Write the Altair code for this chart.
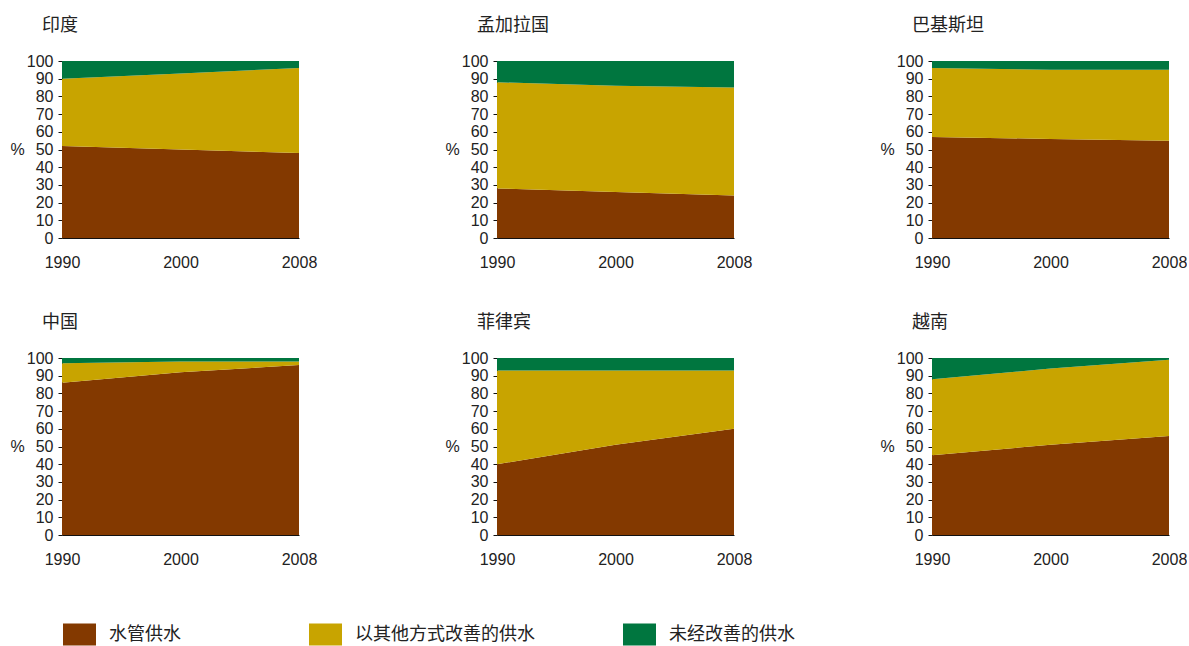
import altair as alt
import pandas as pd

# Water supply source, share of population (%), 1990 / 2000 / 2008
countries = ["印度", "孟加拉国", "巴基斯坦", "中国", "菲律宾", "越南"]
years = [1990, 2000, 2008]
supply_types = ["水管供水", "以其他方式改善的供水", "未经改善的供水"]
supply_colors = ["#833900", "#C8A400", "#00763F"]

piped = [[52, 50, 48], [28, 26, 24], [57, 56, 55], [86, 92, 96], [40, 51, 60], [45, 51, 56]]
other_improved = [[38, 43, 48], [60, 60, 61], [39, 39, 40], [11, 6, 2], [53, 42, 33], [43, 43, 43]]
unimproved = [[10, 7, 4], [12, 14, 15], [4, 5, 5], [3, 2, 2], [7, 7, 7], [12, 6, 1]]

series = [piped, other_improved, unimproved]

LABEL_FONT = "Liberation Sans"
CJK_FONT = "Noto Sans CJK SC"
TEXT_COLOR = "#222222"

# legend placement for the bottom row (one entry per panel)
legend_slots = {3: (0, 6.5), 4: (1, -182.5), 5: (2, -303.5)}


def country_frame(ci):
    rows = []
    for ti, t in enumerate(supply_types):
        for yi, yr in enumerate(years):
            rows.append({"year": yr, "type": t, "rank": ti, "share": series[ti][ci][yi]})
    return pd.DataFrame(rows)


def panel(ci):
    if ci in legend_slots:
        ti, lx = legend_slots[ci]
        legend = alt.Legend(
            values=[supply_types[ti]],
            orient="none",
            legendX=lx,
            legendY=265.5,
            title=None,
            symbolType="M-1.5,-1L1.5,-1L1.5,1L-1.5,1Z",
            symbolSize=484,
            symbolStrokeWidth=0,
            symbolOpacity=1,
            labelFont=CJK_FONT,
            labelFontSize=18,
            labelColor=TEXT_COLOR,
            labelOffset=18.5,
            labelLimit=400,
            padding=0,
        )
    else:
        legend = None

    return (
        alt.Chart(country_frame(ci))
        .mark_area(opacity=1)
        .encode(
            x=alt.X(
                "year:O",
                scale=alt.Scale(type="point", domain=years, padding=0),
                axis=alt.Axis(
                    title=None,
                    labelAngle=0,
                    labelFlush=False,
                    ticks=False,
                    labelPadding=16,
                    grid=False,
                ),
            ),
            y=alt.Y(
                "share:Q",
                stack="zero",
                scale=alt.Scale(domain=[0, 100], nice=False),
                axis=alt.Axis(
                    values=list(range(0, 101, 10)),
                    title="%",
                    titleAngle=0,
                    titleX=-45,
                    titleY=88,
                    titleAlign="center",
                    titleBaseline="middle",
                    tickSize=4,
                    labelPadding=5,
                    labelOverlap=False,
                    grid=False,
                ),
            ),
            color=alt.Color(
                "type:N",
                scale=alt.Scale(domain=supply_types, range=supply_colors),
                legend=legend,
            ),
            order=alt.Order("rank:Q"),
        )
        .properties(
            width=237,
            height=177,
            title=alt.TitleParams(text=countries[ci], dx=-20, offset=18, frame="group"),
        )
    )


chart = (
    alt.concat(
        *[panel(i) for i in range(len(countries))],
        columns=3,
        spacing={"row": 120, "column": 198},
        bounds="flush",
    )
    .resolve_scale(color="independent")
    .resolve_legend(color="independent")
    .properties(padding={"left": 9, "top": 17, "right": 0, "bottom": 0}, background="white")
    .configure_view(stroke=None)
    .configure_axis(
        labelFont=LABEL_FONT,
        labelFontSize=16,
        labelColor=TEXT_COLOR,
        titleFont=LABEL_FONT,
        titleFontSize=16,
        titleFontWeight="normal",
        titleColor=TEXT_COLOR,
        domainColor="#111111",
        tickColor="#111111",
    )
    .configure_title(
        font=CJK_FONT,
        fontSize=18,
        fontWeight="normal",
        color=TEXT_COLOR,
        anchor="start",
    )
)

chart.save("out.html", embed_options={"renderer": "svg", "actions": False})
